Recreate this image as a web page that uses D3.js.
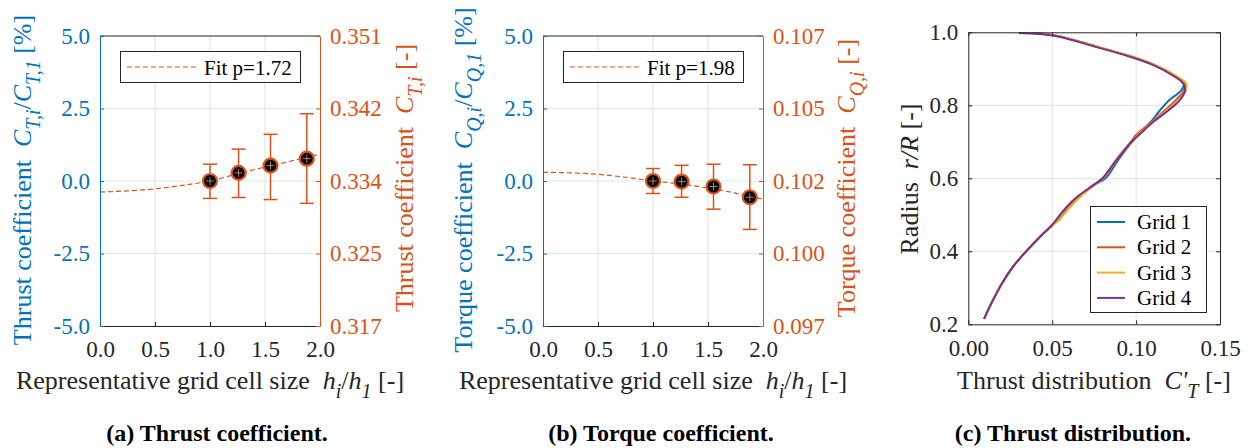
<!DOCTYPE html>
<html>
<head>
<meta charset="utf-8">
<script src="https://cdn.jsdelivr.net/npm/d3@7"></script>
<style>
  body { margin: 0; background: white; }
  svg { font-family: "Liberation Serif", "Times New Roman", serif; }
  text { white-space: pre; }
</style>
</head>
<body>
<div id="viz"></div>
<script>
// values
var gridSize = [1.0, 1.26, 1.55, 1.88];
var sizeTicks = [0, 0.5, 1, 1.5, 2];
var devTicks = [-5, -2.5, 0, 2.5, 5];

// (a) thrust, deviation from grid 1 in %
var thrustDev = [0.0, 0.28, 0.53, 0.77];
var thrustErrUp = [0.58, 1.1, 1.61, 2.32];
var thrustErrLo = [-0.6, -0.57, -0.64, -0.77];
var fitX = [0, 0.25, 0.5, 0.75, 1.0, 1.25, 1.5, 1.75, 2.0];
var thrustFit = [-0.38, -0.34, -0.27, -0.15, 0.0, 0.25, 0.48, 0.70, 0.93];
var thrustRightTicks = ['0.317', '0.325', '0.334', '0.342', '0.351'];

// (b) torque
var torqueDev = [0.0, -0.02, -0.19, -0.56];
var torqueErrUp = [0.43, 0.54, 0.58, 0.56];
var torqueErrLo = [-0.43, -0.56, -0.97, -1.67];
var torqueFit = [0.30, 0.28, 0.23, 0.13, 0.0, -0.1, -0.24, -0.42, -0.63];
var torqueRightTicks = ['0.097', '0.100', '0.102', '0.105', '0.107'];

// (c) thrust distribution over the radius
var radius = [0.215, 0.26, 0.31, 0.36, 0.40, 0.44, 0.47, 0.49, 0.52, 0.55, 0.58, 0.60, 0.65,
              0.70, 0.72, 0.755, 0.785, 0.815, 0.84, 0.86, 0.88, 0.91, 0.935, 0.96, 0.99, 0.998];
var grid1 = [0.0094, 0.0140, 0.0198, 0.0270, 0.0345, 0.0428, 0.0497, 0.0545, 0.0600, 0.0665, 0.0745, 0.0818, 0.0893,
             0.0975, 0.1012, 0.1088, 0.1140, 0.1200, 0.1268, 0.1285, 0.1232, 0.1112, 0.0960, 0.0770, 0.0530, 0.0385];
var grid2 = [0.0094, 0.0140, 0.0198, 0.0270, 0.0345, 0.0428, 0.0497, 0.0545, 0.0600, 0.0665, 0.0740, 0.0800, 0.0880,
             0.0968, 0.1003, 0.1095, 0.1168, 0.1238, 0.1285, 0.1288, 0.1235, 0.1112, 0.0960, 0.0770, 0.0530, 0.0385];
var grid3 = [0.0094, 0.0140, 0.0198, 0.0270, 0.0345, 0.0428, 0.0500, 0.0548, 0.0605, 0.0668, 0.0745, 0.0805, 0.0885,
             0.0976, 0.1015, 0.1100, 0.1180, 0.1258, 0.1295, 0.1298, 0.1240, 0.1118, 0.0965, 0.0775, 0.0535, 0.0385];
var grid4 = [0.0094, 0.0140, 0.0198, 0.0270, 0.0345, 0.0428, 0.0495, 0.0530, 0.0583, 0.0650, 0.0742, 0.0800, 0.0884,
             0.0974, 0.1020, 0.1103, 0.1190, 0.1262, 0.1292, 0.1280, 0.1225, 0.1103, 0.0950, 0.0760, 0.0520, 0.0300];
var gridNames = ['Grid 1', 'Grid 2', 'Grid 3', 'Grid 4'];
var ctTicks = [0, 0.05, 0.1, 0.15];
var radiusTicks = [0.2, 0.4, 0.6, 0.8, 1.0];

var blue = '#0072BD', orange = '#D95319', yellow = '#EDB120', purple = '#7E2F8E', dark = '#262626';
var tickFs = 23, titleFs = 26, legendFs = 21, captionFs = 24;

var svg = d3.select('#viz')
  .append('svg')
  .attr('width', 1251)
  .attr('height', 448);

// text with italic parts and subscripts
function richText(sel, parts, size) {
  var shift = 0;
  parts.forEach(function(p) {
    var ts = sel.append('tspan').text(p[0]);
    var target = p[1] == 'sub' ? Math.round(size * 0.33) : 0;
    if (target != shift) { ts.attr('dy', target - shift); shift = target; }
    if (p[1] == 'sub') ts.attr('font-size', Math.round(size * 0.75));
    if (p[1] == 'i' || p[1] == 'sub') ts.attr('font-style', 'italic');
  });
}

function styleAxis(g, color) {
  g.attr('font-size', null).attr('font-family', null);
  g.select('.domain').attr('stroke', color);
  g.selectAll('.tick line').attr('stroke', color);
  g.selectAll('.tick text').attr('fill', color).attr('font-size', tickFs);
}

function label(x, y, rot, color, parts) {
  var t = svg.append('text')
    .attr('transform', 'translate(' + x + ',' + y + ')' + (rot ? ' rotate(-90)' : ''))
    .attr('text-anchor', 'middle')
    .attr('fill', color)
    .attr('font-size', titleFs);
  richText(t, parts, titleFs);
  return t;
}

function caption(x, txt) {
  svg.append('text').attr('x', x).attr('y', 441).attr('text-anchor', 'middle')
    .attr('font-weight', 'bold').attr('font-size', captionFs).attr('fill', 'black').text(txt);
}

function convergencePanel(o) {
  var x = d3.scaleLinear().domain([0, 2]).range([o.left, o.left + 220]);
  var y = d3.scaleLinear().domain([-5, 5]).range([326, 36]);
  var g = svg.append('g');

  g.append('g').selectAll('line').data([0.5, 1, 1.5]).join('line')
    .attr('x1', d => x(d)).attr('x2', d => x(d))
    .attr('y1', y(-5)).attr('y2', y(5))
    .attr('stroke', '#dfdfdf');
  g.append('g').selectAll('line').data([-2.5, 0, 2.5]).join('line')
    .attr('x1', x(0)).attr('x2', x(2))
    .attr('y1', d => y(d)).attr('y2', d => y(d))
    .attr('stroke', '#d9e9f6');

  // fit curve
  g.append('path')
    .datum(fitX.map((d, i) => [d, o.fit[i]]))
    .attr('fill', 'none')
    .attr('stroke', orange)
    .attr('stroke-width', 1.2)
    .attr('stroke-dasharray', '5,3')
    .attr('d', d3.line().x(d => x(d[0])).y(d => y(d[1])).curve(d3.curveMonotoneX));

  // error bars
  var bars = g.append('g').attr('stroke', orange).attr('stroke-width', 1.5)
    .selectAll('g').data(gridSize).join('g');
  bars.append('line')
    .attr('x1', d => x(d)).attr('x2', d => x(d))
    .attr('y1', (d, i) => y(o.up[i])).attr('y2', (d, i) => y(o.lo[i]));
  bars.append('line')
    .attr('x1', d => x(d) - 7).attr('x2', d => x(d) + 7)
    .attr('y1', (d, i) => y(o.up[i])).attr('y2', (d, i) => y(o.up[i]));
  bars.append('line')
    .attr('x1', d => x(d) - 7).attr('x2', d => x(d) + 7)
    .attr('y1', (d, i) => y(o.lo[i])).attr('y2', (d, i) => y(o.lo[i]));

  // markers
  g.append('g').selectAll('circle').data(gridSize).join('circle')
    .attr('cx', d => x(d)).attr('cy', (d, i) => y(o.dev[i]))
    .attr('r', 7)
    .attr('fill', 'black')
    .attr('stroke', orange)
    .attr('stroke-width', 2.2);
  g.append('g').attr('stroke', '#d8a48c').attr('stroke-width', 0.8)
    .selectAll('path').data(gridSize).join('path')
    .attr('d', (d, i) => 'M' + (x(d) - 4) + ',' + y(o.dev[i]) + 'h8M' + x(d) + ',' + (y(o.dev[i]) - 4) + 'v8');

  // frame and axes
  g.append('line').attr('x1', x(0)).attr('x2', x(2)).attr('y1', y(5)).attr('y2', y(5)).attr('stroke', dark);
  g.append('g').attr('transform', 'translate(0,' + y(-5) + ')')
    .call(d3.axisBottom(x).tickValues(sizeTicks).tickSize(-4).tickSizeOuter(0).tickPadding(15).tickFormat(d => d.toFixed(1)))
    .call(styleAxis, dark);
  g.append('g').attr('transform', 'translate(' + x(0) + ',0)')
    .call(d3.axisLeft(y).tickValues(devTicks).tickSize(-4).tickSizeOuter(0).tickPadding(10).tickFormat(d => d.toFixed(1)))
    .call(styleAxis, blue);
  g.append('g').attr('transform', 'translate(' + x(2) + ',0)')
    .call(d3.axisRight(y).tickValues(devTicks).tickSize(-4).tickSizeOuter(0).tickPadding(10).tickFormat((d, i) => o.rightTicks[i]))
    .call(styleAxis, orange);

  // legend
  var lg = g.append('g');
  lg.append('rect').attr('x', o.left + 20.5).attr('y', 51.5).attr('width', 180).attr('height', 31)
    .attr('fill', 'white').attr('stroke', dark);
  lg.append('line').attr('x1', o.left + 27).attr('x2', o.left + 98).attr('y1', 67).attr('y2', 67)
    .attr('stroke', orange).attr('stroke-width', 1.2).attr('stroke-dasharray', '5,3');
  lg.append('text').attr('x', o.left + 104).attr('y', 75).attr('font-size', legendFs).attr('fill', 'black').text(o.legend);

  // titles
  label(o.leftTitleX, 180, true, blue, o.leftTitle);
  label(o.rightTitleX, 178, true, orange, o.rightTitle);
  label(o.left + 110, 389, false, dark, [['Representative grid cell size  ', ''], ['h', 'i'], ['i', 'sub'], ['/', ''], ['h', 'i'], ['1', 'sub'], [' [-]', '']]);
  caption(o.captionX, o.caption);
}

convergencePanel({
  left: 100, dev: thrustDev, up: thrustErrUp, lo: thrustErrLo, fit: thrustFit,
  rightTicks: thrustRightTicks, legend: 'Fit p=1.72',
  leftTitleX: 31, rightTitleX: 413,
  leftTitle: [['Thrust coefficient  ', ''], ['C', 'i'], ['T,i', 'sub'], ['/', ''], ['C', 'i'], ['T,1', 'sub'], [' [%]', '']],
  rightTitle: [['Thrust coefficient  ', ''], ['C', 'i'], ['T,i', 'sub'], [' [-]', '']],
  captionX: 217, caption: '(a) Thrust coefficient.'
});

convergencePanel({
  left: 543, dev: torqueDev, up: torqueErrUp, lo: torqueErrLo, fit: torqueFit,
  rightTicks: torqueRightTicks, legend: 'Fit p=1.98',
  leftTitleX: 472, rightTitleX: 855,
  leftTitle: [['Torque coefficient  ', ''], ['C', 'i'], ['Q,i', 'sub'], ['/', ''], ['C', 'i'], ['Q,1', 'sub'], [' [%]', '']],
  rightTitle: [['Torque coefficient  ', ''], ['C', 'i'], ['Q,i', 'sub'], [' [-]', '']],
  captionX: 661, caption: '(b) Torque coefficient.'
});

// (c) thrust distribution
var xc = d3.scaleLinear().domain([0, 0.15]).range([968.3, 1220]);
var yc = d3.scaleLinear().domain([0.2, 1.0]).range([324.3, 32.3]);
var gc = svg.append('g');

gc.append('g').selectAll('line').data([0.05, 0.1]).join('line')
  .attr('x1', d => xc(d)).attr('x2', d => xc(d)).attr('y1', yc(0.2)).attr('y2', yc(1))
  .attr('stroke', '#e3e3e3');
gc.append('g').selectAll('line').data([0.4, 0.6, 0.8]).join('line')
  .attr('x1', xc(0)).attr('x2', xc(0.15)).attr('y1', d => yc(d)).attr('y2', d => yc(d))
  .attr('stroke', '#e3e3e3');

var series = [grid1, grid2, grid3, grid4];
var lineColors = [blue, orange, yellow, purple];
var distLine = d3.line().x(d => xc(d[0])).y(d => yc(d[1])).curve(d3.curveCatmullRom.alpha(0.5));
gc.append('g').selectAll('path').data(series).join('path')
  .attr('fill', 'none')
  .attr('stroke', (d, i) => lineColors[i])
  .attr('stroke-width', 2)
  .attr('d', d => distLine(d.map((v, j) => [v, radius[j]])));

gc.append('g').attr('transform', 'translate(0,' + yc(0.2) + ')')
  .call(d3.axisBottom(xc).tickValues(ctTicks).tickSize(-4).tickSizeOuter(0).tickPadding(15).tickFormat(d => d.toFixed(2)))
  .call(styleAxis, dark);
gc.append('g').attr('transform', 'translate(0,' + yc(1) + ')')
  .call(d3.axisTop(xc).tickValues(ctTicks).tickSize(-4).tickSizeOuter(0).tickFormat(''))
  .call(styleAxis, dark);
gc.append('g').attr('transform', 'translate(' + xc(0) + ',0)')
  .call(d3.axisLeft(yc).tickValues(radiusTicks).tickSize(-4).tickSizeOuter(0).tickPadding(10).tickFormat(d => d.toFixed(1)))
  .call(styleAxis, dark);
gc.append('g').attr('transform', 'translate(' + xc(0.15) + ',0)')
  .call(d3.axisRight(yc).tickValues(radiusTicks).tickSize(-4).tickSizeOuter(0).tickFormat(''))
  .call(styleAxis, dark);

// legend (c)
var lc = gc.append('g');
lc.append('rect').attr('x', 1090.5).attr('y', 206.5).attr('width', 116).attr('height', 106)
  .attr('fill', 'white').attr('stroke', dark);
var rows = lc.selectAll('g').data(gridNames).join('g')
  .attr('transform', (d, i) => 'translate(0,' + (222 + i * 25.3) + ')');
rows.append('line').attr('x1', 1097).attr('x2', 1125).attr('stroke-width', 2)
  .attr('stroke', (d, i) => lineColors[i]);
rows.append('text').attr('x', 1137).attr('y', 7).attr('font-size', legendFs).attr('fill', 'black').text(d => d);

label(918, 179, true, dark, [['Radius  ', ''], ['r/R', 'i'], [' [-]', '']]);
label(1094, 389, false, dark, [['Thrust distribution  ', ''], ["C'", 'i'], ['T', 'sub'], [' [-]', '']]);
caption(1073, '(c) Thrust distribution.');
</script>
</body>
</html>
